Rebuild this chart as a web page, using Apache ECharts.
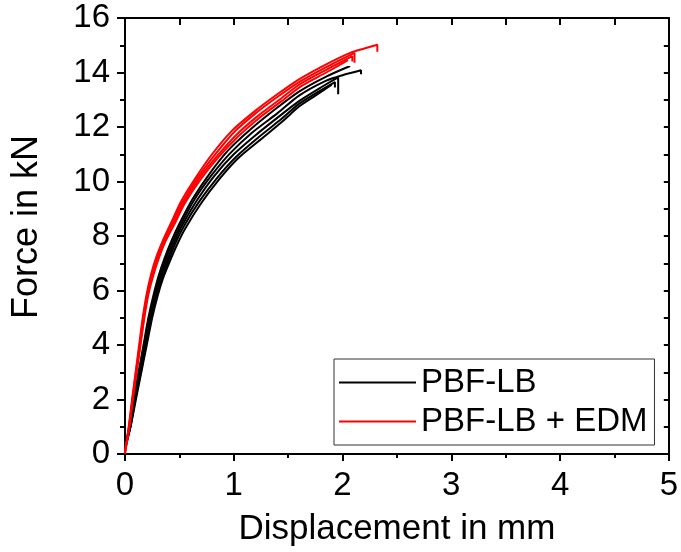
<!DOCTYPE html>
<html>
<head>
<meta charset="utf-8">
<script src="https://cdn.jsdelivr.net/npm/echarts@6/dist/echarts.min.js"></script>
<style>
html,body{margin:0;padding:0;background:#fff;}
#chart{width:681px;height:552px;}
</style>
</head>
<body>
<div id="chart"></div>
<script>
// Axis settings
const xRange = [0, 5];
const yRange = [0, 16];
const xTitle = 'Displacement in mm';
const yTitle = 'Force in kN';
const seriesNames = ['PBF-LB', 'PBF-LB + EDM'];

// PBF-LB curves [displacement mm, force kN]
const pbf1 = [[0,0.2],[0.04,1],[0.08,2],[0.125,3],[0.17,4],[0.215,5],[0.26,5.8],[0.31,6.55],[0.365,7.2],[0.43,7.85],[0.5,8.45],[0.62,9.35],[0.78,10.3],[0.95,11.15],[1.15,11.9],[1.38,12.65],[1.6,13.3],[1.85,13.85],[2.07,14.24]];
const pbf2 = [[0,0.3],[0.045,1],[0.085,2],[0.13,3],[0.178,4],[0.225,5],[0.27,5.8],[0.32,6.5],[0.375,7.15],[0.44,7.8],[0.51,8.4],[0.64,9.35],[0.8,10.25],[0.97,11.05],[1.17,11.8],[1.4,12.5],[1.6,13.15],[1.85,13.7],[2.0,13.9],[2.17,14.08],[2.17,13.94]];
const pbf3 = [[0,0.15],[0.05,1],[0.09,2],[0.138,3],[0.185,4],[0.232,5],[0.28,5.8],[0.33,6.5],[0.385,7.1],[0.45,7.75],[0.52,8.35],[0.66,9.3],[0.82,10.2],[1.0,11.0],[1.2,11.7],[1.42,12.4],[1.6,12.95],[1.8,13.45],[1.96,13.82],[1.96,13.2]];
const pbf4 = [[0,0.25],[0.05,1],[0.095,2],[0.145,3],[0.193,4],[0.24,5],[0.29,5.8],[0.34,6.45],[0.395,7.05],[0.46,7.7],[0.54,8.35],[0.68,9.25],[0.84,10.1],[1.02,10.9],[1.22,11.6],[1.44,12.3],[1.6,12.85],[1.78,13.3],[1.93,13.65],[1.93,13.45]];
const pbf5 = [[0,0.35],[0.05,1],[0.1,2],[0.15,3],[0.2,4],[0.25,5],[0.3,5.8],[0.35,6.45],[0.41,7.05],[0.475,7.65],[0.55,8.25],[0.7,9.2],[0.86,10.05],[1.04,10.85],[1.25,11.55],[1.46,12.25],[1.6,12.75],[1.75,13.15],[1.9,13.55]];

// PBF-LB + EDM curves
const edm1 = [[0,0],[0.035,1],[0.065,2],[0.098,3],[0.13,4],[0.163,5],[0.198,5.85],[0.24,6.6],[0.29,7.25],[0.35,7.85],[0.42,8.45],[0.52,9.3],[0.66,10.2],[0.8,11.0],[0.98,11.85],[1.2,12.6],[1.4,13.2],[1.6,13.75],[1.85,14.3],[2.07,14.72],[2.2,14.88],[2.32,15.02],[2.32,14.76]];
const edm2 = [[0,0.1],[0.035,1],[0.068,2],[0.1,3],[0.135,4],[0.168,5],[0.204,5.85],[0.247,6.6],[0.297,7.25],[0.357,7.85],[0.43,8.45],[0.53,9.25],[0.67,10.15],[0.82,10.95],[1.0,11.8],[1.2,12.5],[1.4,13.1],[1.6,13.65],[1.85,14.2],[2.11,14.72],[2.11,14.36]];
const edm3 = [[0,0.05],[0.04,1],[0.07,2],[0.105,3],[0.14,4],[0.174,5],[0.21,5.85],[0.254,6.55],[0.305,7.2],[0.365,7.8],[0.44,8.4],[0.54,9.2],[0.68,10.1],[0.84,10.9],[1.02,11.7],[1.22,12.4],[1.42,13.0],[1.6,13.55],[1.85,14.1],[2.09,14.6],[2.09,14.4]];
const edm4 = [[0,0.1],[0.04,1],[0.072,2],[0.107,3],[0.142,4],[0.178,5],[0.215,5.85],[0.26,6.55],[0.312,7.2],[0.372,7.8],[0.45,8.4],[0.55,9.2],[0.69,10.05],[0.85,10.85],[1.04,11.65],[1.24,12.35],[1.44,12.95],[1.62,13.5],[1.85,14.0],[2.05,14.45]];

const pbfCurves = [pbf1, pbf2, pbf3, pbf4, pbf5];
const edmCurves = [edm1, edm2, edm3, edm4];

const FONT = '"Liberation Sans", Arial, sans-serif';

function lineSeries(name, data, color) {
  return {
    type: 'line', name: name, data: data,
    xAxisIndex: 0, yAxisIndex: 0,
    symbol: 'none', smooth: 0.25,
    lineStyle: { color: color, width: 2 },
    itemStyle: { color: color },
    emphasis: { disabled: true },
    clip: true
  };
}

const series = [];
pbfCurves.forEach(d => series.push(lineSeries(seriesNames[0], d, '#000000')));
edmCurves.forEach(d => series.push(lineSeries(seriesNames[1], d, '#ff0000')));

const axisLine = { show: true, onZero: false, lineStyle: { color: '#000', width: 2 } };

const chart = echarts.init(document.getElementById('chart'), null, { renderer: 'canvas' });
chart.setOption({
  animation: false,
  backgroundColor: '#ffffff',
  textStyle: { fontFamily: FONT },
  grid: { left: 125, right: 6, top: 18, bottom: 93, containLabel: false },
  legend: {
    data: seriesNames,
    orient: 'vertical',
    left: 334, top: 359,
    padding: [7, 7, 7, 5],
    itemGap: 6,
    itemWidth: 77, itemHeight: 2,
    icon: 'rect',
    borderColor: '#333', borderWidth: 1,
    backgroundColor: '#fff',
    textStyle: { fontSize: 33, color: '#000', fontFamily: FONT },
    selectedMode: false
  },
  xAxis: [{
    type: 'value', min: xRange[0], max: xRange[1], interval: 1,
    position: 'bottom',
    name: xTitle, nameLocation: 'middle', nameGap: 58,
    nameTextStyle: { fontSize: 35, color: '#000', fontFamily: FONT },
    axisLine: axisLine,
    axisTick: { show: true, inside: false, length: 7, lineStyle: { color: '#000', width: 2 } },
    minorTick: { show: true, splitNumber: 2, length: 4, lineStyle: { color: '#000', width: 2 } },
    axisLabel: { fontSize: 33, color: '#000', margin: 15, fontFamily: FONT },
    splitLine: { show: false }
  }, {
    type: 'value', min: xRange[0], max: xRange[1], interval: 0.5,
    position: 'top',
    axisLine: axisLine,
    axisTick: { show: true, inside: true, length: 7, lineStyle: { color: '#000', width: 2 } },
    axisLabel: { show: false },
    splitLine: { show: false }
  }],
  yAxis: [{
    type: 'value', min: yRange[0], max: yRange[1], interval: 2,
    position: 'left',
    name: yTitle, nameLocation: 'middle', nameGap: 80,
    nameTextStyle: { fontSize: 36, color: '#000', fontFamily: FONT, padding: [0, 0, 0, 18] },
    axisLine: axisLine,
    axisTick: { show: true, inside: false, length: 8, lineStyle: { color: '#000', width: 2 } },
    minorTick: { show: true, splitNumber: 2, length: 5, lineStyle: { color: '#000', width: 2 } },
    axisLabel: { fontSize: 33, color: '#000', margin: 15, fontFamily: FONT },
    splitLine: { show: false }
  }, {
    type: 'value', min: yRange[0], max: yRange[1], interval: 1,
    position: 'right',
    axisLine: axisLine,
    axisTick: { show: true, inside: true, length: 5, lineStyle: { color: '#000', width: 2 } },
    axisLabel: { show: false },
    splitLine: { show: false }
  }],
  series: series
});
</script>
</body>
</html>
